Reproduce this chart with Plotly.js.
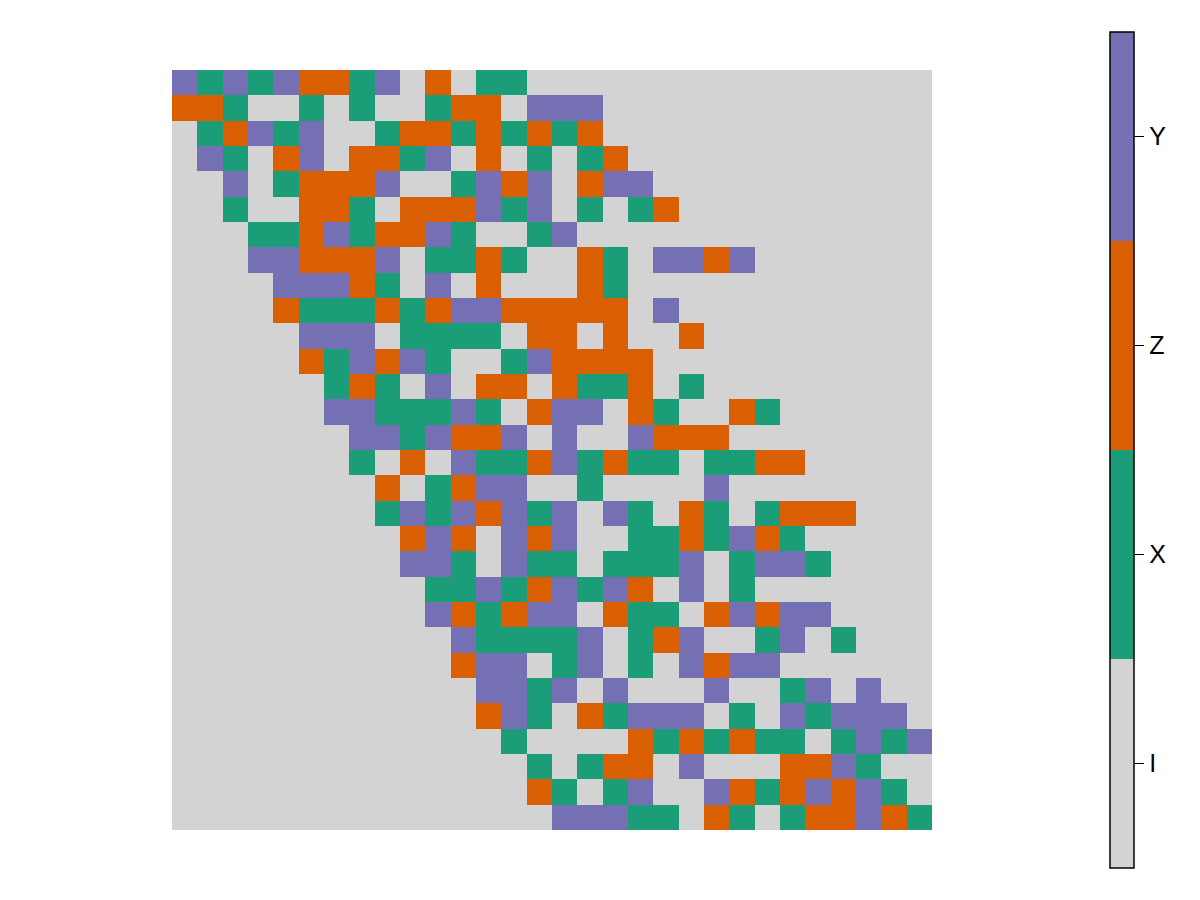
<!DOCTYPE html>
<html><head><meta charset="utf-8">
<script src="https://cdn.plot.ly/plotly-3.0.1.min.js"></script>
<style>html,body{margin:0;padding:0;background:#fff}#chart{width:1200px;height:900px}</style>
</head><body><div id="chart"></div>
<script>
// Pauli categories (heatmap value = index) and their colours
const categories = ['I', 'X', 'Z', 'Y'];
const categoryColors = ['#d3d3d3', '#1b9e77', '#d95f02', '#7570b3'];
const tickValues = [0, 1, 2, 3];

// One string per row (top to bottom), one character per column
const pauliRows = [
  "YXYXYZZXYIZIXXIIIIIIIIIIIIIIII",
  "ZZXIIXIXIIXZZIYYYIIIIIIIIIIIII",
  "IXZYXYIIXZZXZXZXZIIIIIIIIIIIII",
  "IYXIZYIZZXYIZIXIXZIIIIIIIIIIII",
  "IIYIXZZZYIIXYZYIZYYIIIIIIIIIII",
  "IIXIIZZXIZZZYXYIXIXZIIIIIIIIII",
  "IIIXXZYXZZYXIIXYIIIIIIIIIIIIII",
  "IIIYYZZZYIXXZXIIZXIYYZYIIIIIII",
  "IIIIYYYZXIYIZIIIZXIIIIIIIIIIII",
  "IIIIZXXXZXZYYZZZZZIYIIIIIIIIII",
  "IIIIIYYYIXXXXIZZIZIIZIIIIIIIII",
  "IIIIIZXYZYXIIXYZZZZIIIIIIIIIII",
  "IIIIIIXZXIYIZZIZXXZIXIIIIIIIII",
  "IIIIIIYYXXXYXIZYYIZXIIZXIIIIII",
  "IIIIIIIYYXYZZYIYIIYZZZIIIIIIII",
  "IIIIIIIXIZIYXXZYXZXXIXXZZIIIII",
  "IIIIIIIIZIXZYYIIXIIIIYIIIIIIII",
  "IIIIIIIIXYXYZYXYIYXIZXIXZZZIII",
  "IIIIIIIIIZYZIYZYIIXXZXYZXIIIII",
  "IIIIIIIIIYYXIYXXIXXXYIXYYXIIII",
  "IIIIIIIIIIXXYXZYXYZIYIXIIIIIII",
  "IIIIIIIIIIYZXZYYIZXXIZYZYYIIII",
  "IIIIIIIIIIIYXXXXYIXZYIIXYIXIII",
  "IIIIIIIIIIIZYYIXYIXIYZYYIIIIII",
  "IIIIIIIIIIIIYYXYIYIIIYIIXYIYII",
  "IIIIIIIIIIIIZYXIZXYYYIXIYXYYYI",
  "IIIIIIIIIIIIIXIIIIZXZXZXXIXYXY",
  "IIIIIIIIIIIIIIXIXZZIYIIIZZYXII",
  "IIIIIIIIIIIIIIZXIXYIIYZXZYZYXI",
  "IIIIIIIIIIIIIIIYYYXXIZXIXZZYZX"
];

const z = pauliRows.map(r => r.split('').map(c => categories.indexOf(c)));
const nCols = pauliRows[0].length;
const colIndex = pauliRows[0].split('').map((_, i) => i);
const rowIndex = pauliRows.map((_, i) => i);

// discrete colorscale
const n = categories.length;
const colorscale = [];
categoryColors.forEach((c, i) => {
  colorscale.push([i / n, c]);
  colorscale.push([(i + 1) / n, c]);
});

const trace = {
  type: 'heatmap',
  z: z,
  x: colIndex,
  y: rowIndex,
  zmin: -0.5,
  zmax: n - 0.5,
  colorscale: colorscale,
  xgap: 0, ygap: 0,
  hoverinfo: 'skip',
  colorbar: {
    thickness: 24, thicknessmode: 'pixels',
    len: 836, lenmode: 'pixels',
    x: (1110 - 172) / 760, xanchor: 'left', xpad: 0,
    y: 0.5, yanchor: 'middle', ypad: 0,
    outlinewidth: 1.5, outlinecolor: '#000',
    tickmode: 'array', tickvals: tickValues, ticktext: categories,
    ticks: 'outside', ticklen: 10, tickwidth: 1.5, tickcolor: '#000',
    ticklabelstandoff: 2,
    tickfont: { family: 'Liberation Sans, Arial, sans-serif', size: 25, color: '#000' }
  }
};

const layout = {
  width: 1200, height: 900,
  margin: { l: 172, r: 268, t: 70, b: 70, pad: 0 },
  paper_bgcolor: '#fff', plot_bgcolor: '#fff',
  xaxis: { visible: false, range: [-0.5, nCols - 0.5], fixedrange: true },
  yaxis: { visible: false, range: [pauliRows.length - 0.5, -0.5], fixedrange: true },
  showlegend: false
};

Plotly.newPlot('chart', [trace], layout, { displayModeBar: false, staticPlot: true });
</script>
</body></html>
